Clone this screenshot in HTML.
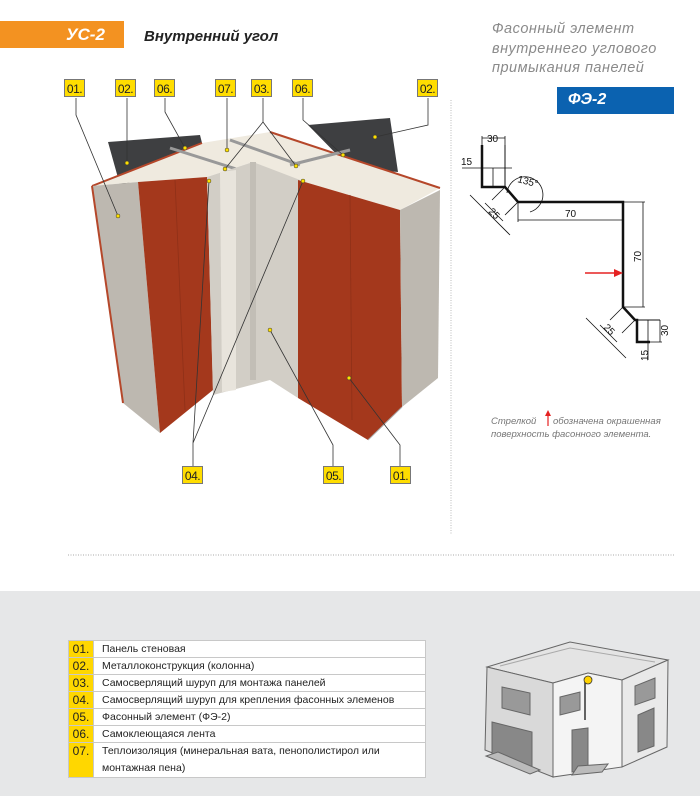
<!DOCTYPE html>
<html><head><meta charset="utf-8"><style>
body{margin:0;width:700px;height:796px;position:relative;background:#fff;font-family:"Liberation Sans",sans-serif;overflow:hidden}
.a{position:absolute}
.lb{position:absolute;width:21px;height:18px;background:#ffdd00;border:1px solid #777;font-size:12px;line-height:18px;text-align:center;color:#222;box-sizing:border-box;letter-spacing:-0.5px}
table{position:absolute;left:68px;top:640px;width:358px;border-collapse:collapse;font-size:10.5px;color:#222}
td{border:1px solid #c8c8c8;height:16px;padding:0;background:#fff}
td.n{background:#ffd700;width:24px;text-align:center;vertical-align:top;font-size:12px;line-height:16px}
td.t{padding-left:8px;line-height:16px}
</style></head><body>
<div class="a" style="left:0;top:21px;width:124px;height:27px;background:#f39221"></div>
<div class="a" style="left:66px;top:25px;color:#fff;font-weight:bold;font-style:italic;font-size:17px">УС-2</div>
<div class="a" style="left:144px;top:28px;color:#222;font-weight:bold;font-style:italic;font-size:15px">Внутренний угол</div>
<div class="a" style="left:492px;top:20px;color:#8a8a8a;font-style:italic;font-size:14.5px;line-height:19.5px;letter-spacing:0.5px">Фасонный элемент<br>внутреннего углового<br>примыкания панелей</div>
<div class="a" style="left:557px;top:87px;width:117px;height:27px;background:#0b62b0"></div>
<div class="a" style="left:568px;top:91px;color:#fff;font-weight:bold;font-style:italic;font-size:16px">ФЭ-2</div>
<div class="a" style="left:0;top:591px;width:700px;height:205px;background:#e6e7e8"></div>

<svg class="a" style="left:0;top:0" width="700" height="796">
<line x1="451" y1="100" x2="451" y2="535" stroke="#bbb" stroke-dasharray="1,1.5"/>
<line x1="68" y1="555" x2="674" y2="555" stroke="#aaa" stroke-dasharray="1,1.5"/>
<!-- columns -->
<path d="M108,142 L200,135 L207,163 L120,185 Z" fill="#3e3f41"/>
<path d="M308,125 L390,118 L398,172 L350,168 Z" fill="#3e3f41"/>
<!-- top faces -->
<path d="M92,186 L202,143 L270,132 L440,188 L400,210 L298,180 L253,162 L207,177 L138,182 Z" fill="#efeadf"/>
<path d="M92,186 L202,143 M270,132 L440,188" stroke="#b5472a" stroke-width="2" fill="none"/>
<path d="M170,148 L255,175 M230,140 L300,165 M290,165 L350,150" stroke="#999" stroke-width="3"/>
<!-- left panel -->
<path d="M92,186 L138,182 L160,433 L123,403 Z" fill="#bdb8b0"/>
<path d="M138,182 L207,177 L213,390 L160,433 Z" fill="#a4381c"/>
<path d="M175,180 L185,410" stroke="#8f3018" stroke-width="0.8"/>
<path d="M92,186 L123,403" stroke="#b5472a" stroke-width="2"/>
<!-- center flashing -->
<path d="M207,177 L253,162 L300,180 L298,398 L270,380 L213,395 Z" fill="#d2cec6"/>
<path d="M220,172 L236,170 L236,390 L222,392 Z" fill="#e8e4dc"/>
<path d="M253,162 L253,380" stroke="#c2beb6" stroke-width="6"/>
<!-- right panel -->
<path d="M298,180 L400,210 L402,407 L368,440 L298,398 Z" fill="#a4381c"/>
<path d="M350,195 L352,420" stroke="#8f3018" stroke-width="0.8"/>
<path d="M400,210 L440,190 L438,378 L402,407 Z" fill="#bdb8b0"/>
<path d="M402,407 L368,440" stroke="#aaa"/>
<!-- leader lines -->
<g stroke="#333" stroke-width="0.8" fill="none">
<path d="M76,98 L76,115 L118,216"/>
<path d="M127,98 L127,163"/>
<path d="M165,98 L165,112 L185,148"/>
<path d="M227,98 L227,150"/>
<path d="M263,98 L263,122 L225,169 M263,122 L296,166"/>
<path d="M303,98 L303,120 L343,155"/>
<path d="M428,98 L428,125 L375,137"/>
<path d="M193,466 L193,443 L209,181 M193,443 L303,181"/>
<path d="M333,466 L333,445 L270,330"/>
<path d="M400,466 L400,445 L349,378"/>
</g>
<g fill="#ffe000" stroke="#333" stroke-width="0.5">
<circle cx="118" cy="216" r="2"/><circle cx="127" cy="163" r="2"/><circle cx="185" cy="148" r="2"/><circle cx="227" cy="150" r="2"/><circle cx="225" cy="169" r="2"/><circle cx="296" cy="166" r="2"/><circle cx="343" cy="155" r="2"/><circle cx="375" cy="137" r="2"/><circle cx="209" cy="181" r="2"/><circle cx="303" cy="181" r="2"/><circle cx="270" cy="330" r="2"/><circle cx="349" cy="378" r="2"/>
</g>
<!-- technical drawing -->
<g stroke="#111" fill="none">
<path d="M482,145 L482,187 L505,187 L518,202 L623,202 L623,307 L635,320 L637,320 L637,342 L650,342" stroke-width="2.5"/>
<path d="M505,145 L505,187 M637,320 L660,320" stroke-width="1"/>
<path d="M482,138 L505,138 M482,145 L482,136 M505,145 L505,136" stroke-width="0.8"/>
<path d="M462,168 L512,168" stroke-width="0.8"/>
<path d="M493,168 L493,187" stroke-width="0.8"/>
<path d="M518,202 L518,222 M518,220 L623,220 M623,202 L645,202 M643,202 L643,307 M623,307 L645,307" stroke-width="0.8"/>
<path d="M470,195 L510,235 M505,187 L492,200 M518,202 L505,215 M485,203 L503,221" stroke-width="0.8"/>
<path d="M586,318 L626,358 M623,307 L610,320 M635,320 L622,333 M600,325 L617,342" stroke-width="0.8"/>
<path d="M660,320 L660,342 M650,342 L662,342 M648,320 L648,360" stroke-width="0.8"/>
<path d="M507,193 A18,18 0 1 1 530,212" stroke-width="0.8"/>
</g>
<path d="M585,273 L620,273" stroke="#e52222" stroke-width="1.5"/><path d="M623,273 L614,269 L614,277 Z" fill="#e52222"/>
<g font-size="10" fill="#111" font-family="Liberation Sans,sans-serif">
<text x="487" y="142">30</text><text x="461" y="165">15</text>
<text x="517" y="182" transform="rotate(15 517 182)">135°</text>
<text x="565" y="217">70</text>
<text x="0" y="0" transform="translate(488,212) rotate(45)">25</text>
<text x="0" y="0" transform="translate(641,262) rotate(-90)">70</text>
<text x="0" y="0" transform="translate(603,328) rotate(45)">25</text>
<text x="0" y="0" transform="translate(668,336) rotate(-90)">30</text>
<text x="0" y="0" transform="translate(648,361) rotate(-90)">15</text>
</g>
<g font-size="9.5" fill="#777" font-style="italic" font-family="Liberation Sans,sans-serif">
<text x="491" y="424">Стрелкой</text><text x="553" y="424">обозначена окрашенная</text>
<text x="491" y="437">поверхность фасонного элемента.</text>
</g>
<path d="M548,426 L548,414" stroke="#e52222" stroke-width="1.2"/><path d="M548,410 L545,416 L551,416 Z" fill="#e52222"/>
<!-- building -->
<g stroke="#666" stroke-width="1">
<path d="M487,667 L570,642 L668,660 L622,680 L588,673 L553,683 Z" fill="#e4e4e4"/>
<path d="M500,666 L570,648 L655,662" fill="none" stroke="#aaa"/>
<path d="M487,667 L553,683 L553,777 L485,750 Z" fill="#d9d9d9"/>
<path d="M553,683 L588,673 L622,680 L622,767 L553,777 Z" fill="#f4f4f4"/>
<path d="M622,680 L668,660 L667,747 L622,767 Z" fill="#e9e9e9"/>
<path d="M502,687 L530,693 L530,715 L502,708 Z M560,697 L580,692 L580,710 L560,715 Z M635,686 L655,678 L655,698 L635,705 Z" fill="#999"/>
<path d="M492,722 L532,732 L532,770 L492,755 Z M572,730 L588,728 L588,770 L572,772 Z M638,715 L654,708 L654,746 L638,752 Z" fill="#888"/>
<path d="M486,756 L530,774 L540,770 L498,752 Z M572,775 L602,772 L608,764 L578,766 Z" fill="#bbb"/>
<path d="M585,680 L585,720" stroke="#333" stroke-width="1.5"/>
</g>
<circle cx="588" cy="680" r="4" fill="#ffd200" stroke="#333" stroke-width="0.8"/>
</svg>

<div class="lb" style="left:64px;top:79px">01.</div>
<div class="lb" style="left:115px;top:79px">02.</div>
<div class="lb" style="left:154px;top:79px">06.</div>
<div class="lb" style="left:215px;top:79px">07.</div>
<div class="lb" style="left:251px;top:79px">03.</div>
<div class="lb" style="left:292px;top:79px">06.</div>
<div class="lb" style="left:417px;top:79px">02.</div>
<div class="lb" style="left:182px;top:466px">04.</div>
<div class="lb" style="left:323px;top:466px">05.</div>
<div class="lb" style="left:390px;top:466px">01.</div>

<table>
<tr><td class="n">01.</td><td class="t">Панель стеновая</td></tr>
<tr><td class="n">02.</td><td class="t">Металлоконструкция (колонна)</td></tr>
<tr><td class="n">03.</td><td class="t">Самосверлящий шуруп для монтажа панелей</td></tr>
<tr><td class="n">04.</td><td class="t">Самосверлящий шуруп для крепления фасонных элеменов</td></tr>
<tr><td class="n">05.</td><td class="t">Фасонный элемент (ФЭ-2)</td></tr>
<tr><td class="n">06.</td><td class="t">Самоклеющаяся лента</td></tr>
<tr><td class="n">07.</td><td class="t" style="line-height:17px">Теплоизоляция (минеральная вата, пенополистирол или<br>монтажная пена)</td></tr>
</table>
</body></html>
